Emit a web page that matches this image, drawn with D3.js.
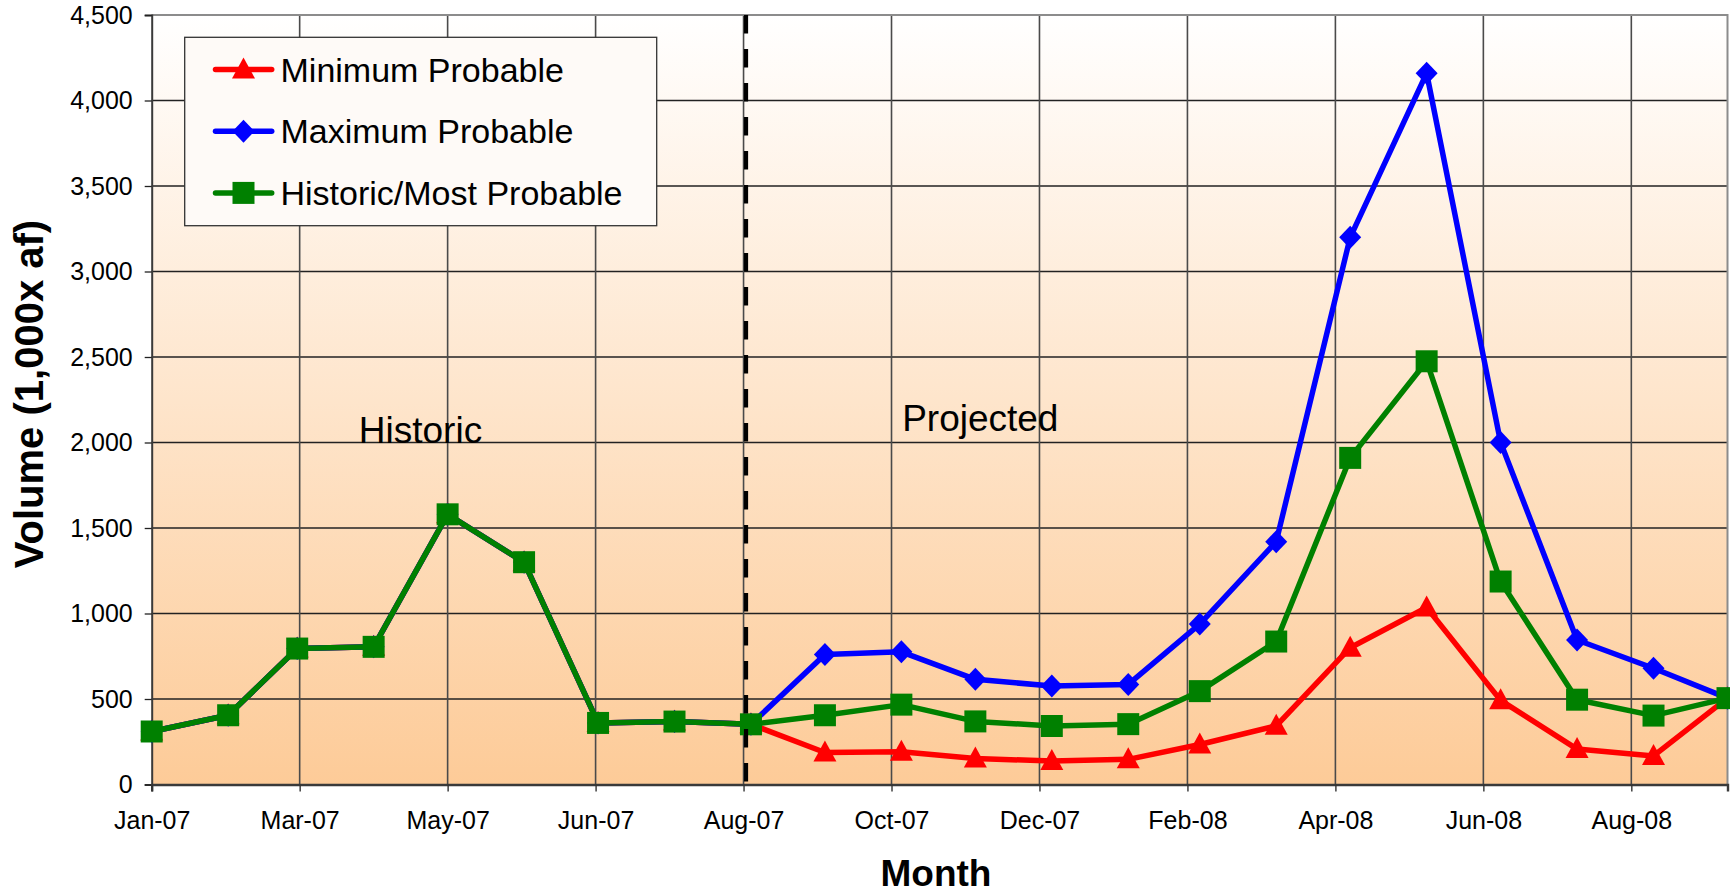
<!DOCTYPE html>
<html>
<head>
<meta charset="utf-8">
<script src="https://cdn.jsdelivr.net/npm/d3@7"></script>
<style>
  html, body { margin: 0; padding: 0; background: #ffffff; }
  svg { display: block; }
  text { font-family: "Liberation Sans", Arial, sans-serif; }
</style>
</head>
<body>
<svg id="chart" width="1730" height="896"></svg>
<script>
// ---------- data ----------
const months = ["2007-01-01","2007-02-01","2007-03-01","2007-04-01","2007-05-01","2007-06-01",
  "2007-07-01","2007-08-01","2007-09-01","2007-10-01","2007-11-01","2007-12-01",
  "2008-01-01","2008-02-01","2008-03-01","2008-04-01","2008-05-01","2008-06-01",
  "2008-07-01","2008-08-01","2008-09-01","2008-10-01"];
const minProbable  = [310, 405, 795, 805, 1580, 1300, 360, 368, 352, 187, 191, 152, 137, 147, 234, 343, 800, 1035, 492, 207, 167, 505];
const maxProbable  = [310, 405, 795, 805, 1580, 1300, 360, 368, 352, 760, 776, 615, 576, 585, 938, 1420, 3200, 4160, 2000, 845, 680, 505];
const mostProbable = [310, 405, 795, 805, 1580, 1300, 360, 368, 352, 405, 467, 369, 342, 353, 546, 836, 1910, 2475, 1187, 496, 403, 505];
const seriesNames  = ["Minimum Probable", "Maximum Probable", "Historic/Most Probable"];
const tickDates  = ["2007-01-01","2007-03-02","2007-05-01","2007-06-30","2007-08-29","2007-10-28",
  "2007-12-27","2008-02-25","2008-04-25","2008-06-24","2008-08-23"];
const tickLabels = ["Jan-07","Mar-07","May-07","Jun-07","Aug-07","Oct-07","Dec-07","Feb-08","Apr-08","Jun-08","Aug-08"];
const yTicks = [0, 500, 1000, 1500, 2000, 2500, 3000, 3500, 4000, 4500];
const xDomain = ["2007-01-01", "2008-10-01"];
const dividerDate = "2007-08-30";
const annotations = [{text: "Historic", date: "2007-04-20", value: 1997}, {text: "Projected", date: "2007-12-03", value: 2067}];

// ---------- layout ----------
const P = {left: 151.7, right: 1727.5, top: 15, bottom: 784.5};
const parse = d3.utcParse("%Y-%m-%d");
const svg = d3.select("#chart");

const x = d3.scaleUtc().domain(xDomain.map(parse)).range([P.left, P.right]);
const y = d3.scaleLinear().domain([0, 4500]).range([P.bottom, P.top]);

// background gradient
const defs = svg.append("defs");
const grad = defs.append("linearGradient").attr("id", "bg").attr("x1", 0).attr("y1", 0).attr("x2", 0).attr("y2", 1);
grad.append("stop").attr("offset", "0%").attr("stop-color", "#ffffff");
grad.append("stop").attr("offset", "100%").attr("stop-color", "#fdcb98");
svg.append("rect").attr("x", P.left).attr("y", P.top)
  .attr("width", P.right - P.left).attr("height", P.bottom - P.top).attr("fill", "url(#bg)");

// gridlines
const grid = svg.append("g");
grid.selectAll("line.h").data(yTicks.slice(1)).join("line")
  .attr("x1", P.left).attr("x2", P.right)
  .attr("y1", d => y(d)).attr("y2", d => y(d))
  .attr("stroke", "#222").attr("stroke-width", 1.4);
grid.selectAll("line.v").data(tickDates.slice(1)).join("line")
  .attr("x1", d => x(parse(d))).attr("x2", d => x(parse(d)))
  .attr("y1", P.top).attr("y2", P.bottom)
  .attr("stroke", "#4a4a4a").attr("stroke-width", 1.6);
// plot border (top, right)
svg.append("path")
  .attr("d", `M${P.left},${P.top}H${P.right}V${P.bottom}`)
  .attr("fill", "none").attr("stroke", "#8c8c8c").attr("stroke-width", 2);

// axes
const yAxis = d3.axisLeft(y).tickValues(yTicks).tickSize(7).tickPadding(12).tickFormat(d3.format(","));
const gy = svg.append("g").attr("transform", `translate(${P.left},0)`).call(yAxis);
gy.select(".domain").attr("stroke", "#3a3a3a").attr("stroke-width", 2);
gy.selectAll(".tick line").attr("stroke", "#222").attr("stroke-width", 1.3);
gy.selectAll(".tick text").attr("font-size", 25).attr("fill", "#000").attr("font-family", "Liberation Sans, Arial, sans-serif");

const xAxis = d3.axisBottom(x).tickValues(tickDates.map(parse)).tickSize(7).tickPadding(20)
  .tickFormat((d, i) => tickLabels[i]);
const gx = svg.append("g").attr("transform", `translate(0,${P.bottom})`).call(xAxis);
gx.select(".domain").attr("stroke", "#3a3a3a").attr("stroke-width", 2.4);
gx.selectAll(".tick line").attr("stroke", "#333").attr("stroke-width", 1.4);
gx.selectAll(".tick text").attr("font-size", 25).attr("fill", "#000").attr("font-family", "Liberation Sans, Arial, sans-serif");

// series
const colors = ["#ff0000", "#0000ff", "#008000"];
const seriesData = [minProbable, maxProbable, mostProbable];
const markerPaths = [
  "M0,-12L11.5,9L-11.5,9Z",
  "M0,-11.5L11,0L0,11.5L-11,0Z",
  "M-11,-11H11V11H-11Z"
];
const line = d3.line().x(d => x(d.date)).y(d => y(d.v));
seriesData.forEach((vals, si) => {
  const pts = vals.map((v, i) => ({date: parse(months[i]), v}));
  const g = svg.append("g");
  g.append("path").datum(pts).attr("d", line)
    .attr("fill", "none").attr("stroke", colors[si]).attr("stroke-width", 5.5)
    .attr("stroke-linejoin", "round");
  g.selectAll("path.m").data(pts).join("path")
    .attr("d", markerPaths[si])
    .attr("transform", d => `translate(${x(d.date)},${y(d.v)})`)
    .attr("fill", colors[si]);
});

// divider dashed line
svg.append("line")
  .attr("x1", x(parse(dividerDate))).attr("x2", x(parse(dividerDate)))
  .attr("y1", P.top).attr("y2", P.bottom)
  .attr("stroke", "#000").attr("stroke-width", 4.2).attr("stroke-dasharray", "18.5,15.5");

// annotations
annotations.forEach(a => {
  svg.append("text").attr("x", x(parse(a.date))).attr("y", y(a.value))
    .attr("text-anchor", "middle").attr("font-size", 37).attr("fill", "#000").text(a.text);
});

// legend
const L = {x: 184.7, y: 37.3, w: 472, h: 188.4};
svg.append("rect").attr("x", L.x).attr("y", L.y).attr("width", L.w).attr("height", L.h)
  .attr("fill", "#fefaf7").attr("stroke", "#333").attr("stroke-width", 1.3);
seriesNames.forEach((name, i) => {
  const cy = 69.5 + i * 61.7;
  svg.append("line").attr("x1", 215.5).attr("x2", 271.7).attr("y1", cy).attr("y2", cy)
    .attr("stroke", colors[i]).attr("stroke-width", 5.5).attr("stroke-linecap", "round");
  svg.append("path").attr("d", markerPaths[i])
    .attr("transform", `translate(243.5,${cy})`).attr("fill", colors[i]);
  svg.append("text").attr("x", 280.5).attr("y", cy + 12).attr("font-size", 34)
    .attr("fill", "#000").text(name);
});

// axis titles
svg.append("text").attr("transform", `translate(43,394) rotate(-90)`)
  .attr("text-anchor", "middle").attr("font-size", 40).attr("font-weight", "bold").attr("fill", "#000")
  .text("Volume (1,000x af)");
svg.append("text").attr("x", 936).attr("y", 886).attr("text-anchor", "middle")
  .attr("font-size", 37).attr("font-weight", "bold").attr("fill", "#000").text("Month");
</script>
</body>
</html>
